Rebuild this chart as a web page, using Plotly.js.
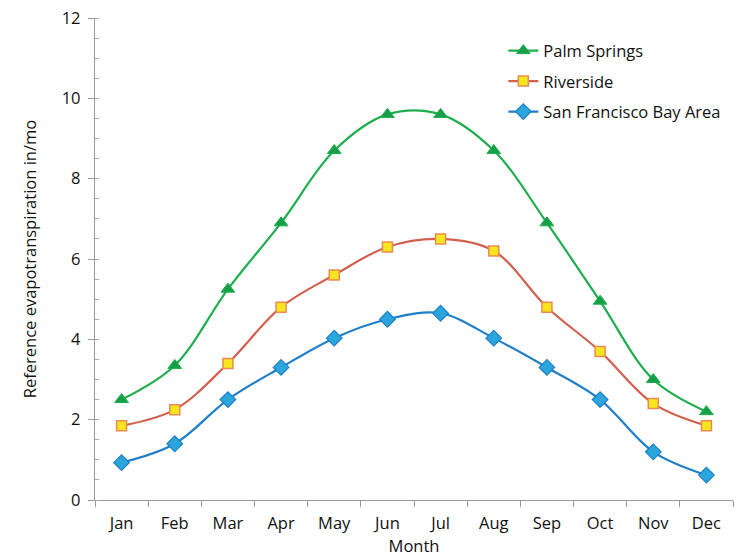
<!DOCTYPE html>
<html>
<head>
<meta charset="utf-8">
<script src="https://cdn.plot.ly/plotly-3.0.1.min.js"></script>
<style>html,body{margin:0;padding:0;background:#fff;}#chart{width:739px;height:559px;}</style>
</head>
<body>
<div id="chart"></div>
<script>
const months = ["Jan","Feb","Mar","Apr","May","Jun","Jul","Aug","Sep","Oct","Nov","Dec"];
const palmSprings = [2.5, 3.35, 5.25, 6.9, 8.7, 9.6, 9.6, 8.7, 6.9, 4.95, 3.0, 2.2];
const riverside = [1.85, 2.25, 3.4, 4.8, 5.6, 6.3, 6.5, 6.2, 4.8, 3.7, 2.4, 1.85];
const sanFrancisco = [0.93, 1.4, 2.5, 3.3, 4.03, 4.5, 4.65, 4.03, 3.3, 2.5, 1.2, 0.62];
const seriesNames = ["Palm Springs", "Riverside", "San Francisco Bay Area"];

const FONT = "Open Sans, Noto Sans, sans-serif";
const FS = 16.5;

const traces = [
  {
    x: months, y: palmSprings, name: seriesNames[0], legendgroup: "a", type: "scatter", mode: "lines+markers",
    line: {color: "#1fae4f", width: 2.2, shape: "spline", smoothing: 1},
    marker: {symbol: "triangle-up", size: 12, color: "#15a048", line: {color: "#1fae4f", width: 1}}
  },
  {
    x: months, y: riverside, name: seriesNames[1], legendgroup: "b", type: "scatter", mode: "lines+markers",
    line: {color: "#d2604f", width: 2.2, shape: "spline", smoothing: 1},
    marker: {symbol: "square", size: 10, color: "#f6e61e", line: {color: "#ec8a55", width: 1.5}}
  },
  {
    x: months, y: sanFrancisco, name: seriesNames[2], legendgroup: "c", type: "scatter", mode: "lines+markers",
    line: {color: "#1f7fc8", width: 2.2, shape: "spline", smoothing: 1},
    marker: {symbol: "diamond", size: 12, color: "#2aa6dc", line: {color: "#1f7fc8", width: 1.2}}
  }
];

const layout = {
  width: 739, height: 559,
  margin: {l: 95, r: 6, t: 18, b: 59},
  paper_bgcolor: "#fff", plot_bgcolor: "#fff",
  font: {family: FONT, size: FS, color: "#111"},
  showlegend: true,
  legend: {
    x: 0.64, y: 0.968, xanchor: "left", yanchor: "top",
    font: {family: FONT, size: FS, color: "#111"},
    bgcolor: "rgba(0,0,0,0)", traceorder: "grouped", tracegroupgap: 6, itemwidth: 30
  },
  xaxis: {
    type: "category", range: [-0.5, 11.5],
    showline: true, linecolor: "#999", linewidth: 1.2,
    ticks: "outside", tickson: "boundaries", ticklen: 6, tickcolor: "#999",
    ticklabelstandoff: 8,
    showgrid: false, zeroline: false,
    tickfont: {family: FONT, size: FS, color: "#111"},
    title: {text: "Month", font: {family: FONT, size: FS, color: "#111"}, standoff: 7}
  },
  yaxis: {
    range: [0, 12], dtick: 2, tick0: 0,
    showline: true, linecolor: "#999", linewidth: 1.2,
    ticks: "outside", ticklen: 6, tickcolor: "#999",
    ticklabelstandoff: 4,
    minor: {dtick: 0.5, ticks: "inside", ticklen: 4, tickcolor: "#aaa", showgrid: false},
    showgrid: false, zeroline: false,
    tickfont: {family: FONT, size: FS, color: "#111"},
    title: {text: "Reference evapotranspiration in/mo", font: {family: FONT, size: FS, color: "#111"}, standoff: 20}
  }
};

Plotly.newPlot("chart", traces, layout, {displayModeBar: false, staticPlot: true});
</script>
</body>
</html>
